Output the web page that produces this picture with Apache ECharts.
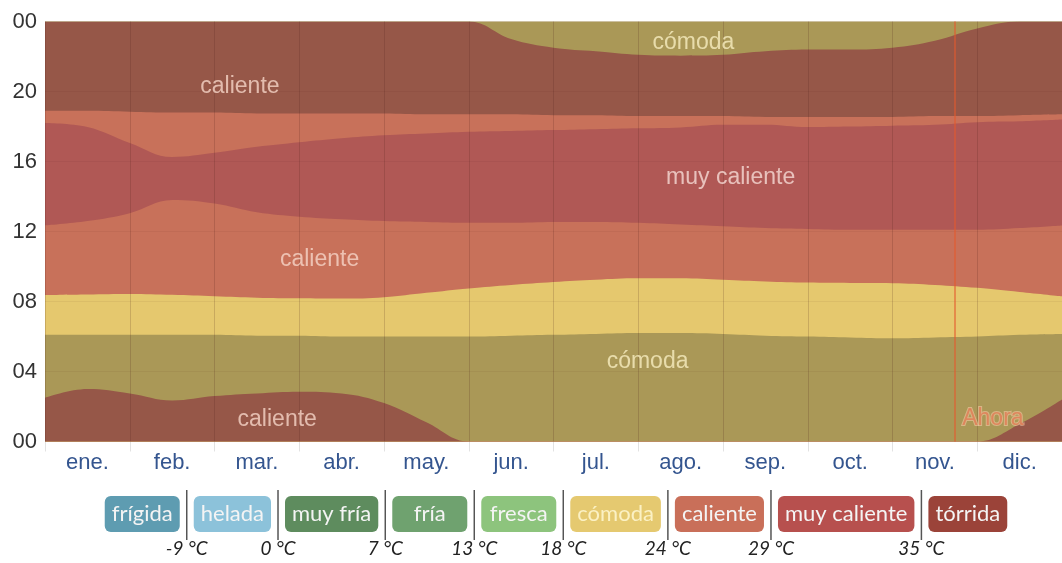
<!DOCTYPE html>
<html>
<head>
<meta charset="utf-8">
<title>Temperatura por hora</title>
<script src="https://cdn.jsdelivr.net/npm/echarts@6/dist/echarts.min.js"></script>
<style>
  html, body { margin: 0; padding: 0; background: #fff; }
  #chart { width: 1062px; height: 563px; }
</style>
</head>
<body>
<div id="chart"></div>
<script>
// meses del eje x
const months = ["ene.", "feb.", "mar.", "abr.", "may.", "jun.", "jul.", "ago.", "sep.", "oct.", "nov.", "dic."];
// puntos de muestreo, en meses desde el 1 de enero
const samples = [0, 0.5, 1, 1.5, 2, 2.5, 3, 3.5, 4, 4.5, 5, 5.5, 6, 6.5, 7, 7.5, 8, 8.5, 9, 9.5, 10, 10.5, 11, 11.5, 12];

// límites entre bandas (hora del día)
const nightHotTop   = [2.5, 3.0, 2.75, 2.35, 2.6, 2.75, 2.85, 2.75, 2.2, 1.1, 0, 0, 0, 0, 0, 0, 0, 0, 0, 0, 0, 0, 0, 1.0, 2.4];
const sunrise       = [6.1, 6.1, 6.1, 6.1, 6.1, 6.05, 6.05, 6.0, 6.0, 6.0, 6.0, 6.05, 6.1, 6.15, 6.2, 6.2, 6.15, 6.05, 6.0, 5.95, 5.9, 5.95, 6.0, 6.1, 6.15];
const comfyTop      = [8.37, 8.4, 8.43, 8.38, 8.3, 8.22, 8.18, 8.17, 8.25, 8.5, 8.75, 8.95, 9.12, 9.25, 9.33, 9.33, 9.25, 9.15, 9.08, 9.06, 9.05, 8.95, 8.78, 8.55, 8.3];
const veryHotStart  = [12.35, 12.6, 13.05, 13.8, 13.6, 13.1, 12.85, 12.7, 12.6, 12.55, 12.5, 12.5, 12.55, 12.55, 12.5, 12.4, 12.3, 12.2, 12.15, 12.1, 12.1, 12.1, 12.1, 12.2, 12.35];
const veryHotEnd    = [18.2, 17.97, 17.06, 16.26, 16.5, 16.84, 17.1, 17.33, 17.5, 17.6, 17.7, 17.75, 17.8, 17.85, 17.9, 17.95, 18.1, 18.1, 17.97, 18.0, 18.05, 18.1, 18.25, 18.3, 18.4];
const sunset        = [18.9, 18.9, 18.85, 18.8, 18.8, 18.75, 18.75, 18.75, 18.75, 18.7, 18.7, 18.7, 18.65, 18.65, 18.6, 18.6, 18.6, 18.55, 18.55, 18.55, 18.55, 18.6, 18.6, 18.65, 18.7];
const eveningComfy  = [24, 24, 24, 24, 24, 24, 24, 24, 24, 24, 24, 23.0, 22.5, 22.3, 22.1, 22.05, 22.1, 22.3, 22.4, 22.4, 22.5, 22.9, 23.6, 24, 24];

// etiquetas dentro del gráfico: [mes, hora, texto]
const bandLabels = [
  [2.3, 20.26, "caliente"],
  [7.65, 22.77, "cómoda"],
  [8.09, 15.06, "muy caliente"],
  [3.24, 10.37, "caliente"],
  [7.11, 4.54, "cómoda"],
  [2.74, 1.23, "caliente"]
];
const nowMonth = 10.74;

// leyenda
const legendNames = ["frígida", "helada", "muy fría", "fría", "fresca", "cómoda", "caliente", "muy caliente", "tórrida"];
const legendLimits = [-9, 0, 7, 13, 18, 24, 29, 35];

const colors = {
  hotNight: "#965748",
  comfyNight: "#aa9857",
  comfyDay: "#e5c86e",
  hotDay: "#c8715a",
  veryHotDay: "#b05855"
};
const legendColors = ["#5e9cb1", "#8cc2da", "#5e8c5e", "#6fa26f", "#8dc47d", "#e5c970", "#c96f59", "#b7504e", "#9b4339"];
const labelColors = { "caliente": "#f6d6c8", "muy caliente": "#f6dcd6", "cómoda": "#f8eec0" };

const chart = echarts.init(document.getElementById("chart"));

function band(values, color) {
  return {
    type: "line",
    xAxisIndex: 0,
    data: samples.map((x, i) => [x, values[i]]),
    smooth: 0.4,
    symbol: "none",
    silent: true,
    lineStyle: { width: 0 },
    areaStyle: { color: color, opacity: 1 }
  };
}

const pad2 = v => (v === 24 ? "00" : String(v).padStart(2, "0"));

// medir el ancho de los textos de la leyenda
const ctx = document.createElement("canvas").getContext("2d");
const boxFont = "22px Lato";
function textWidth(t) {
  ctx.font = boxFont;
  return ctx.measureText(t).width;
}

function buildLegend() {
  const widths = legendNames.map(n => Math.max(textWidth(n) + 14, 75));
  const gap = 14;
  const total = widths.reduce((a, b) => a + b, 0) + gap * (widths.length - 1);
  let x = 556 - total / 2;
  const els = [];
  widths.forEach((w, i) => {
    els.push({
      type: "rect",
      shape: { x: x, y: 496, width: w, height: 36, r: 6 },
      style: { fill: legendColors[i] }
    });
    els.push({
      type: "text",
      style: {
        text: legendNames[i], x: x + w / 2, y: 514,
        align: "center", verticalAlign: "middle",
        font: boxFont,
        fill: legendNames[i] === "cómoda" ? "#fbf1c4" : "#f4f4f4"
      }
    });
    if (i < widths.length - 1) {
      const sx = x + w + gap / 2;
      els.push({
        type: "line",
        shape: { x1: sx, y1: 490, x2: sx, y2: 540 },
        style: { stroke: "#555", lineWidth: 1.5 }
      });
      els.push({
        type: "text",
        style: {
          text: legendLimits[i] + " °C", x: sx, y: 549,
          align: "center", verticalAlign: "middle",
          font: "italic 19px Lato", fill: "#222"
        }
      });
    }
    x += w + gap;
  });
  return els;
}

const option = {
  animation: false,
  grid: {
    left: 45, right: 0, top: 21.5, bottom: 121.5,
    show: true, backgroundColor: colors.comfyNight, borderWidth: 0
  },
  xAxis: [
    {
      type: "value", min: 0, max: 12, interval: 1, z: 5,
      axisLabel: { show: false }, axisLine: { show: false }, axisTick: { show: false },
      splitLine: { show: true, lineStyle: { color: "rgba(70,30,20,0.18)", width: 1 } }
    },
    {
      type: "category", data: months, position: "bottom", boundaryGap: true,
      axisLine: { show: false },
      axisTick: { show: true, length: 10, lineStyle: { color: "#e2e2e2" } },
      axisLabel: { color: "#34558f", fontSize: 22, fontFamily: "Liberation Sans", margin: 10 },
      splitLine: { show: false }
    }
  ],
  yAxis: {
    type: "value", min: 0, max: 24, interval: 4, z: 5,
    axisLine: { show: false }, axisTick: { show: false },
    axisLabel: { formatter: pad2, color: "#333", fontSize: 22, fontFamily: "Liberation Sans", margin: 8 },
    splitLine: { show: true, lineStyle: { color: "rgba(60,20,10,0.06)" } }
  },
  series: [
    band(eveningComfy, colors.hotNight),
    band(sunset, colors.hotDay),
    band(veryHotEnd, colors.veryHotDay),
    band(veryHotStart, colors.hotDay),
    band(comfyTop, colors.comfyDay),
    band(sunrise, colors.comfyNight),
    band(nightHotTop, colors.hotNight),
    {
      type: "scatter", xAxisIndex: 0, symbolSize: 0, silent: true, z: 10,
      data: bandLabels.map(b => ({ value: b, label: { color: labelColors[b[2]] } })),
      label: {
        show: true, position: "inside",
        formatter: p => p.value[2],
        fontSize: 23, fontFamily: "Liberation Sans"
      }
    },
    {
      type: "scatter", xAxisIndex: 0, symbolSize: 0, silent: true, z: 10,
      data: [[nowMonth, 1.3]],
      label: {
        show: true, position: "right", distance: 7, formatter: "Ahora",
        color: "#e07a52", fontSize: 23, fontFamily: "Liberation Sans",
        textBorderColor: "rgba(250,205,170,0.7)", textBorderWidth: 2
      },
      markLine: {
        symbol: "none", silent: true, label: { show: false },
        lineStyle: { color: "rgba(228,90,45,0.55)", width: 2, type: "solid" },
        data: [{ xAxis: nowMonth }]
      }
    }
  ],
  graphic: buildLegend()
};

chart.setOption(option);
</script>
</body>
</html>
